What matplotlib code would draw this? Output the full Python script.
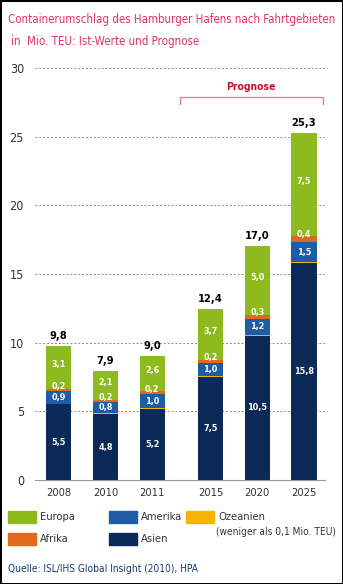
import matplotlib
matplotlib.use("Agg")
import matplotlib.pyplot as plt
from matplotlib.patches import Rectangle

plt.rcParams['font.family'] = ['DejaVu Sans']
plt.rcParams['font.stretch'] = 'condensed'

years = ["2008", "2010", "2011", "2015", "2020", "2025"]
xpos = [0, 1, 2, 3.25, 4.25, 5.25]

asien = [5.5, 4.8, 5.2, 7.5, 10.5, 15.8]
ozeanien = [0.05, 0.05, 0.05, 0.05, 0.05, 0.05]
amerika = [0.9, 0.8, 1.0, 1.0, 1.2, 1.5]
afrika = [0.2, 0.2, 0.2, 0.2, 0.3, 0.4]
europa = [3.1, 2.1, 2.6, 3.7, 5.0, 7.5]
totals = [9.8, 7.9, 9.0, 12.4, 17.0, 25.3]

c_asien = "#0b2a58"
c_oz = "#f5b400"
c_am = "#1c5da6"
c_af = "#e06a1c"
c_eu = "#8dba1e"


def de(v):
    return f"{v:.1f}".replace(".", ",")


fig = plt.figure(figsize=(3.43, 5.84), dpi=100)
fig.patch.set_edgecolor("black")
fig.patch.set_linewidth(2)

W, H = 343.0, 584.0
ax = fig.add_axes([35 / W, (H - 480) / H, 290 / W, (480 - 68) / H])

bw = 0.54
bottom = [0.0] * len(years)
segs = []
for vals, col in [(asien, c_asien), (ozeanien, c_oz), (amerika, c_am),
                  (afrika, c_af), (europa, c_eu)]:
    ax.bar(xpos, vals, bw, bottom=bottom, color=col, zorder=3, linewidth=0)
    segs.append(list(bottom))
    bottom = [b + v for b, v in zip(bottom, vals)]

lab_kw = dict(ha="center", va="center", color="white", fontsize=6.5,
              fontweight="bold", zorder=4)
for i, x in enumerate(xpos):
    ax.text(x, asien[i] / 2, de(asien[i]), **lab_kw)
    b_am = segs[2][i]
    ax.text(x, b_am + amerika[i] / 2, de(amerika[i]), **lab_kw)
    b_af = segs[3][i]
    ax.text(x, b_af + afrika[i] + 0.15, de(afrika[i]), **lab_kw)
    b_eu = segs[4][i]
    ax.text(x, b_eu + europa[i] / 2 + 0.2, de(europa[i]), **lab_kw)
    ax.text(x, bottom[i] + 0.35, de(totals[i]), ha="center", va="bottom",
            fontsize=8, fontweight="bold", color="black", zorder=4)

ax.set_xlim(-0.51, 5.7)
ax.set_ylim(0, 30)
ax.set_yticks([0, 5, 10, 15, 20, 25, 30])
ax.set_xticks(xpos)
ax.set_xticklabels(years)
ax.tick_params(axis="both", length=0, labelsize=9, colors="#333333")
ax.tick_params(axis="x", pad=6, labelsize=8)
ax.tick_params(axis="y", pad=8)
ax.grid(axis="y", linestyle=(0, (2, 2)), color="#888888", linewidth=0.7, zorder=0)
for s in ["top", "right", "left"]:
    ax.spines[s].set_visible(False)
ax.spines["bottom"].set_color("#999999")
ax.spines["bottom"].set_linewidth(0.8)

# Prognose bracket
bx0, bx1, by = 2.59, 5.65, 27.9
ax.plot([bx0, bx0, bx1, bx1], [27.35, by, by, 27.35], color="#e07a9a",
        linewidth=0.9, clip_on=False)
ax.text((bx0 + bx1) / 2, 28.25, "Prognose", ha="center", va="bottom",
        fontsize=7.5, fontweight="bold", color="#c8102e")

# title
tcol = "#e2306c"
fig.text(8 / W, 1 - 20 / H, "Containerumschlag des Hamburger Hafens nach Fahrtgebieten",
         fontsize=8.3, color=tcol, va="center", ha="left")
fig.text(11 / W, 1 - 41 / H, "in  Mio. TEU: Ist-Werte und Prognose",
         fontsize=8.3, color=tcol, va="center", ha="left")

# legend
legend_items = [
    (8, 511, c_eu, "Europa"),
    (8, 533, c_af, "Afrika"),
    (109, 511, c_am, "Amerika"),
    (109, 533, c_asien, "Asien"),
    (186, 511, c_oz, "Ozeanien"),
]
for lx, ly, col, name in legend_items:
    fig.add_artist(Rectangle((lx / W, 1 - (ly + 12) / H), 28 / W, 12 / H,
                             color=col, transform=fig.transFigure))
    fig.text((lx + 32) / W, 1 - (ly + 6) / H, name, fontsize=8,
             color="#333333", va="center", ha="left")
fig.text(216 / W, 1 - 532 / H, "(weniger als 0,1 Mio. TEU)", fontsize=7.3,
         color="#333333", va="center", ha="left")

fig.text(8 / W, 1 - 569 / H, "Quelle: ISL/IHS Global Insight (2010), HPA",
         fontsize=7.3, color="#1a3a6a", va="center", ha="left")

fig.savefig("out.png", dpi=100)
